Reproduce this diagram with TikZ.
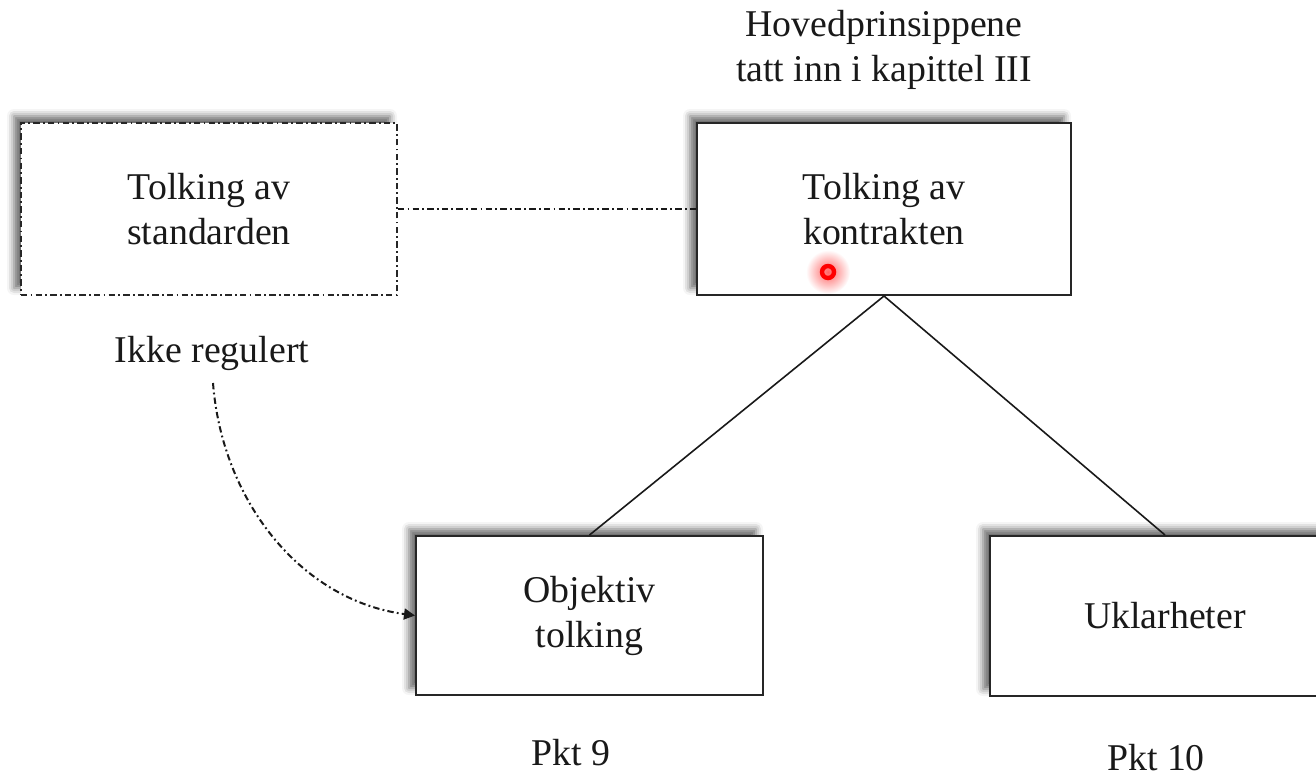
\documentclass[tikz,border=0pt]{standalone}
\usepackage{fontspec}
\setmainfont{Liberation Serif}
\usetikzlibrary{arrows.meta,shadows.blur,fadings}
\tikzfading[name=glowfade, inner color=transparent!0, outer color=transparent!100]
\begin{document}
\begin{tikzpicture}[x=0.5pt,y=-0.5pt,
  lbl/.style={font=\fontsize{18.9}{22.5}\selectfont, align=center, inner sep=0pt, text=black!90},
  box/.style={draw=black!85, line width=1pt, fill=white, lbl,
    blur shadow={shadow xshift=-3.5pt, shadow yshift=3.5pt, shadow blur radius=3.5pt, shadow opacity=60}},
  dashdot/.style={dash pattern=on 3.2pt off 1.6pt on 0.9pt off 1.6pt},
  conn/.style={line width=0.8pt, draw=black!90}
]
\path[use as bounding box] (0,0) rectangle (1316,778);
\clip (0,0) rectangle (1316,778);

% boxes
\node[box, dashdot, minimum width=188pt, minimum height=86pt] (std) at (209,209) {Tolking av\\standarden};
\node[box, minimum width=187pt, minimum height=86pt] (kon) at (884,209) {Tolking av\\kontrakten};
\node[box, minimum width=173.5pt, minimum height=79.5pt] (obj) at (589.5,615.5) {Objektiv\\tolking};
\node[box, minimum width=175pt, minimum height=80pt] (ukl) at (1165,616) {Uklarheter};

% labels
\node[lbl] (title) at (884,50) {Hovedprinsippene\\tatt inn i kapittel III};
\node[lbl, anchor=base] (ikke) at (212,362) {Ikke regulert};
\node[lbl, anchor=base] (pkt9) at (571,765) {Pkt 9};
\node[lbl, anchor=base] (pkt10) at (1156,770) {Pkt 10};

% connectors
\draw[conn, line width=1pt, dashdot] (std.east) -- (kon.west);
\draw[conn] (kon.south) -- (obj.north);
\draw[conn] (kon.south) -- (ukl.north);
\coordinate (arrstart) at (213,383);
\draw[conn, line width=1pt, dashdot, -{Triangle[length=5.5pt,width=5.5pt]}] (arrstart) .. controls (222,500) and (300,600) .. (obj.west);

% pointer
\coordinate (cur) at (828,272);
\fill[red, opacity=0.6, path fading=glowfade] (cur) circle (22);
\draw[red, line width=2.2pt] (cur) circle (6);
\end{tikzpicture}
\end{document}
